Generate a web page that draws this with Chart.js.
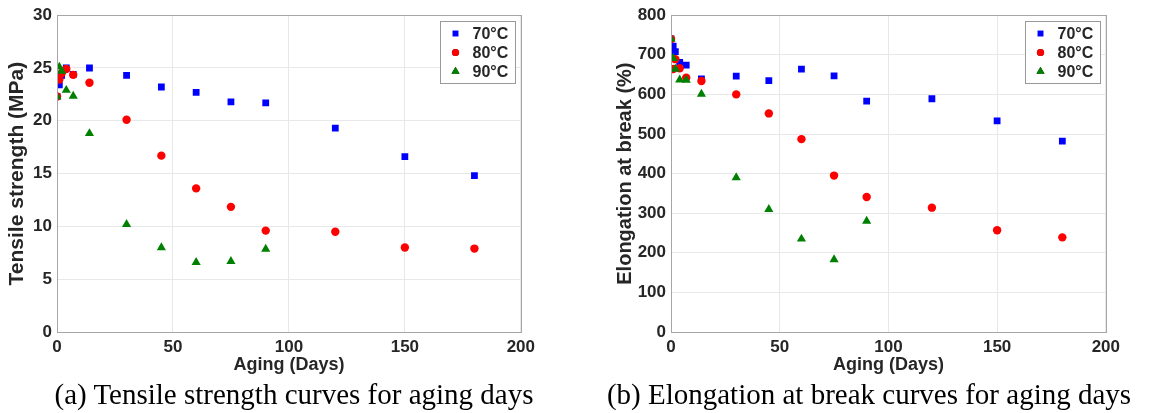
<!DOCTYPE html>
<html>
<head>
<meta charset="utf-8">
<script src="https://cdn.jsdelivr.net/npm/chart.js@4"></script>
<style>
  body { margin: 0; background: #fff; width: 1167px; height: 413px; position: relative; overflow: hidden; }
  .panel { position: absolute; top: 0; }
  .caption { position: absolute; top: 378px; font-family: "Liberation Serif", "Times New Roman", serif; font-size: 29px; color: #000; white-space: nowrap; transform: translateX(-50%); }
</style>
</head>
<body>
<div class="panel" style="left:0px"><canvas id="tensile" width="540" height="380"></canvas></div>
<div class="panel" style="left:604px"><canvas id="elong" width="521" height="380"></canvas></div>
<div class="caption" style="left:294px">(a) Tensile strength curves for aging days</div>
<div class="caption" style="left:869px">(b) Elongation at break curves for aging days</div>
<script>
// aging days (90°C series stops at 90 days)
const days = [0, 1, 2, 4, 7, 14, 30, 45, 60, 75, 90, 120, 150, 180];
const seriesNames = ["70°C", "80°C", "90°C"];

// tensile strength (MPa)
const tensile70 = [22.3, 23.4, 24.3, 25.0, 24.4, 25.0, 24.3, 23.2, 22.7, 21.8, 21.7, 19.3, 16.6, 14.8];
const tensile80 = [22.3, 23.9, 24.5, 24.9, 24.35, 23.6, 20.1, 16.7, 13.6, 11.85, 9.6, 9.5, 8.0, 7.9];
const tensile90 = [22.3, 25.1, 24.7, 22.9, 22.35, 18.8, 10.2, 8.0, 6.6, 6.7, 7.85];

// elongation at break (%)
const elong70 = [740, 722, 708, 681, 674, 639, 646, 635, 664, 647, 583, 589, 533, 482];
const elong80 = [740, 664, 689, 666, 642, 634, 600, 552, 487, 395, 341, 314, 257, 239];
const elong90 = [740, 691, 664, 637, 636, 601, 390, 310, 235, 183, 280];

const xTicks = [0, 50, 100, 150, 200];
const tensileTicks = [0, 5, 10, 15, 20, 25, 30];
const elongTicks = [0, 100, 200, 300, 400, 500, 600, 700, 800];

const textColor = "#262626";
const styles = [
  { color: "#0000ff", pointStyle: "rect", radius: 4.8, order: 3 },
  { color: "#ff0000", pointStyle: "circle", radius: 4.2, order: 2 },
  { color: "#008000", pointStyle: "triangle", radius: 5.3, order: 1 }
];

function toPoints(values) {
  return values.map((v, i) => ({ x: days[i], y: v }));
}

// box around the plot + legend drawn inside top right corner
const frameAndLegend = {
  id: "frameAndLegend",
  afterDatasetsDraw(chart) {
    const { ctx, chartArea: ca } = chart;
    ctx.save();
    ctx.strokeStyle = "#a6a6a6";
    ctx.lineWidth = 1;
    ctx.strokeRect(Math.round(ca.left) + 0.5, Math.round(ca.top) + 0.5, Math.round(ca.right - ca.left), Math.round(ca.bottom - ca.top));

    const w = 75, h = 62;
    const bx = Math.round(ca.right - 6 - w) + 0.5, by = Math.round(ca.top + 6) + 0.5;
    ctx.fillStyle = "#fff";
    ctx.fillRect(bx, by, w, h);
    ctx.strokeStyle = "#999";
    ctx.strokeRect(bx, by, w, h);
    ctx.font = "bold 16px 'Liberation Sans', Arial, sans-serif";
    ctx.textBaseline = "middle";
    chart.data.datasets.forEach((ds, i) => {
      const y = by + 12 + i * 19;
      Chart.helpers.drawPoint(ctx, {
        pointStyle: ds.pointStyle, radius: ds.pointRadius - 0.6, borderWidth: 0, rotation: 0
      }, bx + 15, y);
      ctx.fillStyle = ds.backgroundColor;
      ctx.fill();
      ctx.fillStyle = textColor;
      ctx.fillText(ds.label, bx + 32, y + 1);
    });
    ctx.restore();
  }
};

function makeChart(id, seriesList, yMax, yTicks, yTitle, yWidth, yTitleSize, yTitlePad, topPad) {
  const datasets = seriesList.map((vals, i) => ({
    label: seriesNames[i],
    data: toPoints(vals),
    backgroundColor: styles[i].color,
    borderColor: styles[i].color,
    borderWidth: 0,
    pointStyle: styles[i].pointStyle,
    pointRadius: styles[i].radius,
    order: styles[i].order,
    showLine: false
  }));
  return new Chart(document.getElementById(id), {
    type: "scatter",
    data: { datasets },
    options: {
      responsive: false,
      animation: false,
      layout: { padding: { top: topPad, right: 16, left: 0, bottom: 0 } },
      plugins: { legend: { display: false }, tooltip: { enabled: false } },
      scales: {
        x: {
          type: "linear", min: 0, max: 200,
          afterBuildTicks: s => { s.ticks = xTicks.map(v => ({ value: v })); },
          afterFit: s => { s.height = 48; },
          grid: { color: "#e8e8e8", drawTicks: false },
          border: { display: false },
          ticks: { color: textColor, padding: 5, font: { family: "'Liberation Sans', Arial", size: 17, weight: "bold" } },
          title: { display: true, text: "Aging (Days)", color: textColor, padding: { top: 0, bottom: 4 },
                   font: { family: "'Liberation Sans', Arial", size: 18, weight: "bold" } }
        },
        y: {
          type: "linear", min: 0, max: yMax,
          afterBuildTicks: s => { s.ticks = yTicks.map(v => ({ value: v })); },
          afterFit: s => { s.width = yWidth; },
          grid: { color: "#e8e8e8", drawTicks: false },
          border: { display: false },
          ticks: { color: textColor, padding: 5, font: { family: "'Liberation Sans', Arial", size: 17, weight: "bold" } },
          title: { display: true, text: yTitle, color: textColor, padding: { top: yTitlePad, bottom: 0 },
                   font: { family: "'Liberation Sans', Arial", size: yTitleSize, weight: "bold" } }
        }
      }
    },
    plugins: [frameAndLegend]
  });
}

makeChart("tensile", [tensile70, tensile80, tensile90], 30, tensileTicks, "Tensile strength (MPa)", 57, 21, 5, 15);
makeChart("elong", [elong70, elong80, elong90], 800, elongTicks, "Elongation at break (%)", 67, 20, 9, 12);
</script>
</body>
</html>
